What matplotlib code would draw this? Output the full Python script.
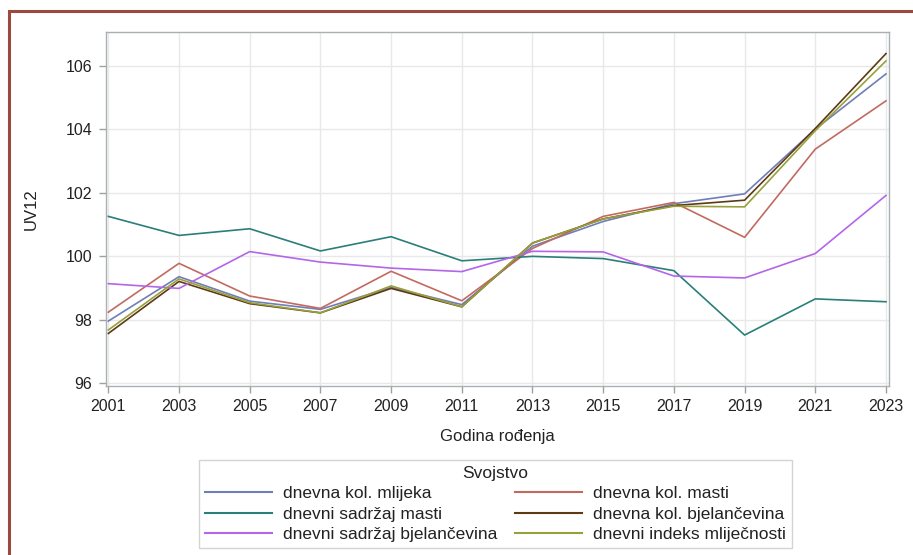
import matplotlib
matplotlib.use("Agg")
import matplotlib.pyplot as plt
from matplotlib.patches import Rectangle
from matplotlib.lines import Line2D

plt.rcParams['font.family'] = ['Liberation Sans', 'DejaVu Sans']

years = [2001, 2003, 2005, 2007, 2009, 2011, 2013, 2015, 2017, 2019, 2021, 2023]
series_names = ["dnevna kol. mlijeka", "dnevna kol. masti", "dnevni sadržaj masti",
                "dnevna kol. bjelančevina", "dnevni sadržaj bjelančevina",
                "dnevni indeks mliječnosti"]
kol_mlijeka = [97.95, 99.35, 98.58, 98.32, 99.01, 98.47, 100.31, 101.09, 101.65, 101.96, 104.00, 105.74]
kol_masti = [98.23, 99.77, 98.74, 98.35, 99.52, 98.59, 100.24, 101.25, 101.69, 100.59, 103.37, 104.89]
sadrzaj_masti = [101.25, 100.65, 100.86, 100.16, 100.61, 99.85, 99.99, 99.92, 99.54, 97.51, 98.65, 98.56]
kol_bjelancevina = [97.56, 99.20, 98.50, 98.21, 98.98, 98.40, 100.41, 101.17, 101.59, 101.76, 104.02, 106.38]
sadrzaj_bjelancevina = [99.13, 98.98, 100.14, 99.81, 99.62, 99.51, 100.15, 100.13, 99.37, 99.31, 100.08, 101.91]
indeks_mlijecnosti = [97.67, 99.28, 98.53, 98.21, 99.06, 98.40, 100.41, 101.17, 101.57, 101.55, 103.95, 106.15]
yticks = [96, 98, 100, 102, 104, 106]

series = [kol_mlijeka, kol_masti, sadrzaj_masti, kol_bjelancevina,
          sadrzaj_bjelancevina, indeks_mlijecnosti]
colors = ['#6F7DB8', '#C26A60', '#2A7F78', '#5E3A14', '#B366E8', '#98A03A']

fig = plt.figure(figsize=(9.13, 5.55), dpi=100)
# outer border (cropped frame)
fig.patches.append(Rectangle((9/913, -0.1), 1.2, 1 - 11/555 + 0.1,
                             transform=fig.transFigure, fill=False,
                             edgecolor='#9B4A40', linewidth=2.2))

ax = fig.add_axes([106/913, 1 - 386/555, (889 - 106)/913, (386 - 32)/555])
for vals, c, name in zip(series, colors, series_names):
    ax.plot(years, vals, color=c, linewidth=1.2, label=name)

ax.set_xlim(2000.935, 2023.085)
ax.set_ylim(95.905, 107.06)
ax.set_xticks(years)
ax.set_yticks(yticks)
ax.grid(True, color='#E8E8E8', linewidth=1.0)
ax.set_axisbelow(True)
for s in ax.spines.values():
    s.set_color('#A8B0B4')
    s.set_linewidth(1.0)
ax.tick_params(axis='both', colors='#A0A0A0', labelcolor='#222222',
               labelsize=11.5, length=5, width=1)
ax.tick_params(axis='x', pad=4.5)
ax.tick_params(axis='y', pad=5)
ax.set_xlabel("Godina rođenja", fontsize=12, color='#222222', labelpad=11)
ax.set_ylabel("UV12", fontsize=12, color='#222222', labelpad=19)

handles = [Line2D([], [], color=c, linewidth=1.5) for c in colors]
order = [0, 2, 4, 1, 3, 5]
leg = fig.legend([handles[i] for i in order], [series_names[i] for i in order],
                 ncol=2, loc='upper left', bbox_to_anchor=(199/913, 1 - 460/555),
                 fontsize=12.5, title="Svojstvo", title_fontsize=12.5,
                 frameon=True, fancybox=False, edgecolor='#C8C8C8',
                 handlelength=3.9, handletextpad=0.62, columnspacing=1.0,
                 labelspacing=0.31, borderpad=0.32, borderaxespad=0)
leg.get_frame().set_linewidth(1.0)
leg.get_title().set_color('#222222')
for t in leg.get_texts():
    t.set_color('#222222')

fig.savefig("out.png", dpi=100)
